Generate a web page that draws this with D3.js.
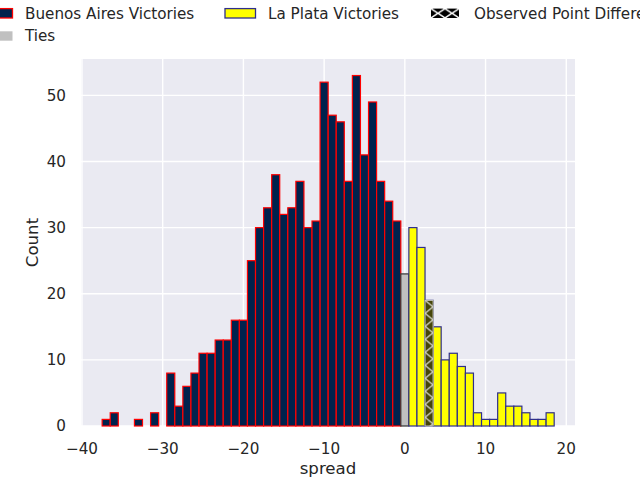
<!DOCTYPE html>
<html>
<head>
<meta charset="utf-8">
<script src="https://cdn.jsdelivr.net/npm/d3@7"></script>
<style>
  html, body { margin: 0; padding: 0; background: #ffffff; }
  svg { display: block; font-family: "DejaVu Sans", sans-serif; }
</style>
</head>
<body>
<svg id="chart" width="640" height="480"></svg>
<script>
// ---- data ----
const buenosSpread = [-37,-36,-35,-34,-33,-32,-31,-30,-29,-28,-27,-26,-25,-24,-23,-22,-21,-20,-19,-18,-17,-16,-15,-14,-13,-12,-11,-10,-9,-8,-7,-6,-5,-4,-3,-2,-1];
const buenosCounts = [1,2,0,0,1,0,2,0,8,3,6,8,11,11,13,13,16,16,25,30,33,38,32,33,37,30,31,52,47,46,37,53,41,49,37,34,31];
const tiesSpread = [0];
const tiesCounts = [23];
const laPlataSpread = [1,2,3,4,5,6,7,8,9,10,11,12,13,14,15,16,17,18];
const laPlataCounts = [30,27,19,15,10,11,9,8,2,1,1,5,3,3,2,1,1,2];
const observedSpread = [3];
const observedCounts = [19];
const xTicks = [-40,-30,-20,-10,0,10,20];
const yTicks = [0,10,20,30,40,50];
const legendLabels = ["Buenos Aires Victories","La Plata Victories","Observed Point Difference","Ties"];
const xLabel = "spread";
const yLabel = "Count";

// ---- layout ----
const svg = d3.select("#chart");
const plot = {left: 81, right: 575, top: 59, bottom: 426};
const x = d3.scaleLinear().domain([-40.12, 21.08]).range([plot.left, plot.right]);
const y = d3.scaleLinear().domain([0, 55.5]).range([plot.bottom, plot.top]);
const textColor = "#262626";

const defs = svg.append("defs");
// hatch for observed bar (zigzag look of 'x' hatch in narrow bar)
const hp = defs.append("pattern").attr("id","hatchBar").attr("patternUnits","userSpaceOnUse")
  .attr("width", 16).attr("height", 13).attr("x", x(2.5)).attr("y", y(19));
hp.append("rect").attr("width",16).attr("height",13).attr("fill","#45450a");
hp.append("path").attr("d","M0,0 L8,6.5 L0,13 M8,6.5 L16,0 M8,6.5 L16,13")
  .attr("stroke","#d8d8d0").attr("stroke-width",1.3).attr("fill","none");

const hl = defs.append("pattern").attr("id","hatchLegend").attr("patternUnits","userSpaceOnUse")
  .attr("width", 14).attr("height", 9.4).attr("x", 431).attr("y", 8.6);
hl.append("rect").attr("width",14).attr("height",9.4).attr("fill","#000");
hl.append("path").attr("d","M0,0 L14,9.4 M14,0 L0,9.4")
  .attr("stroke","#fff").attr("stroke-width",1.4).attr("fill","none");

// background
svg.append("rect").attr("x", plot.left).attr("y", plot.top)
  .attr("width", plot.right - plot.left).attr("height", plot.bottom - plot.top)
  .attr("fill", "#EAEAF2");

// grid
const g = svg.append("g");
g.selectAll("line.gx").data(xTicks).join("line")
  .attr("x1", d => x(d)).attr("x2", d => x(d))
  .attr("y1", plot.top).attr("y2", plot.bottom)
  .attr("stroke", "#fff").attr("stroke-width", 1.4);
g.selectAll("line.gy").data(yTicks).join("line")
  .attr("y1", d => y(d)).attr("y2", d => y(d))
  .attr("x1", plot.left).attr("x2", plot.right)
  .attr("stroke", "#fff").attr("stroke-width", 1.4);

// bars
function drawBars(spread, counts, fill, stroke, sw) {
  const data = spread.map((s, i) => ({s, c: counts[i]})).filter(d => d.c > 0);
  svg.append("g").selectAll("rect").data(data).join("rect")
    .attr("x", d => x(d.s - 0.5))
    .attr("width", d => x(d.s + 0.5) - x(d.s - 0.5))
    .attr("y", d => y(d.c))
    .attr("height", d => y(0) - y(d.c))
    .attr("fill", fill).attr("stroke", stroke).attr("stroke-width", sw);
}
drawBars(buenosSpread, buenosCounts, "#00224d", "#ff0000", 1.2);
drawBars(tiesSpread, tiesCounts, "#c0c0c0", "#333333", 1.2);
drawBars(laPlataSpread, laPlataCounts, "#ffff00", "#2e2e8c", 1.2);
drawBars(observedSpread, observedCounts, "url(#hatchBar)", "#c8c8c0", 1);

// axes tick labels
const fmt = d => d < 0 ? "\u2212" + Math.abs(d) : String(d);
svg.append("g").selectAll("text").data(xTicks).join("text")
  .attr("x", d => x(d)).attr("y", 453.5)
  .attr("text-anchor", "middle").attr("font-size", 15.2).attr("fill", textColor)
  .text(fmt);
svg.append("g").selectAll("text").data(yTicks).join("text")
  .attr("x", 66).attr("y", d => y(d)).attr("dy", "0.36em")
  .attr("text-anchor", "end").attr("font-size", 15.2).attr("fill", textColor)
  .text(fmt);

svg.append("text").attr("x", (plot.left + plot.right) / 2).attr("y", 474)
  .attr("text-anchor", "middle").attr("font-size", 16.6).attr("fill", textColor)
  .text(xLabel);
svg.append("text")
  .attr("transform", `translate(38,${(plot.top + plot.bottom) / 2}) rotate(-90)`)
  .attr("text-anchor", "middle").attr("font-size", 16.6).attr("fill", textColor)
  .text(yLabel);

// legend
const legendItems = [
  {label: legendLabels[0], px: -18, tx: 25, row: 0, fill: "#00224d", stroke: "#ff0000"},
  {label: legendLabels[1], px: 225, tx: 268, row: 0, fill: "#ffff00", stroke: "#2e2e8c"},
  {label: legendLabels[2], px: 431, tx: 474, row: 0, fill: "url(#hatchLegend)", stroke: "none"},
  {label: legendLabels[3], px: -18, tx: 25, row: 1, fill: "#c0c0c0", stroke: "none"}
];
const rowY = [13.3, 36];
const lg = svg.append("g");
legendItems.forEach(it => {
  lg.append("rect").attr("x", it.px).attr("y", rowY[it.row] - 4.7)
    .attr("width", it.stroke === "none" && it.row === 0 ? 28 : 30.5).attr("height", 9.4)
    .attr("fill", it.fill).attr("stroke", it.stroke).attr("stroke-width", 1.3);
  lg.append("text").attr("x", it.tx).attr("y", rowY[it.row]).attr("dy", "0.36em")
    .attr("font-size", 15.2).attr("fill", textColor).text(it.label);
});
</script>
</body>
</html>
